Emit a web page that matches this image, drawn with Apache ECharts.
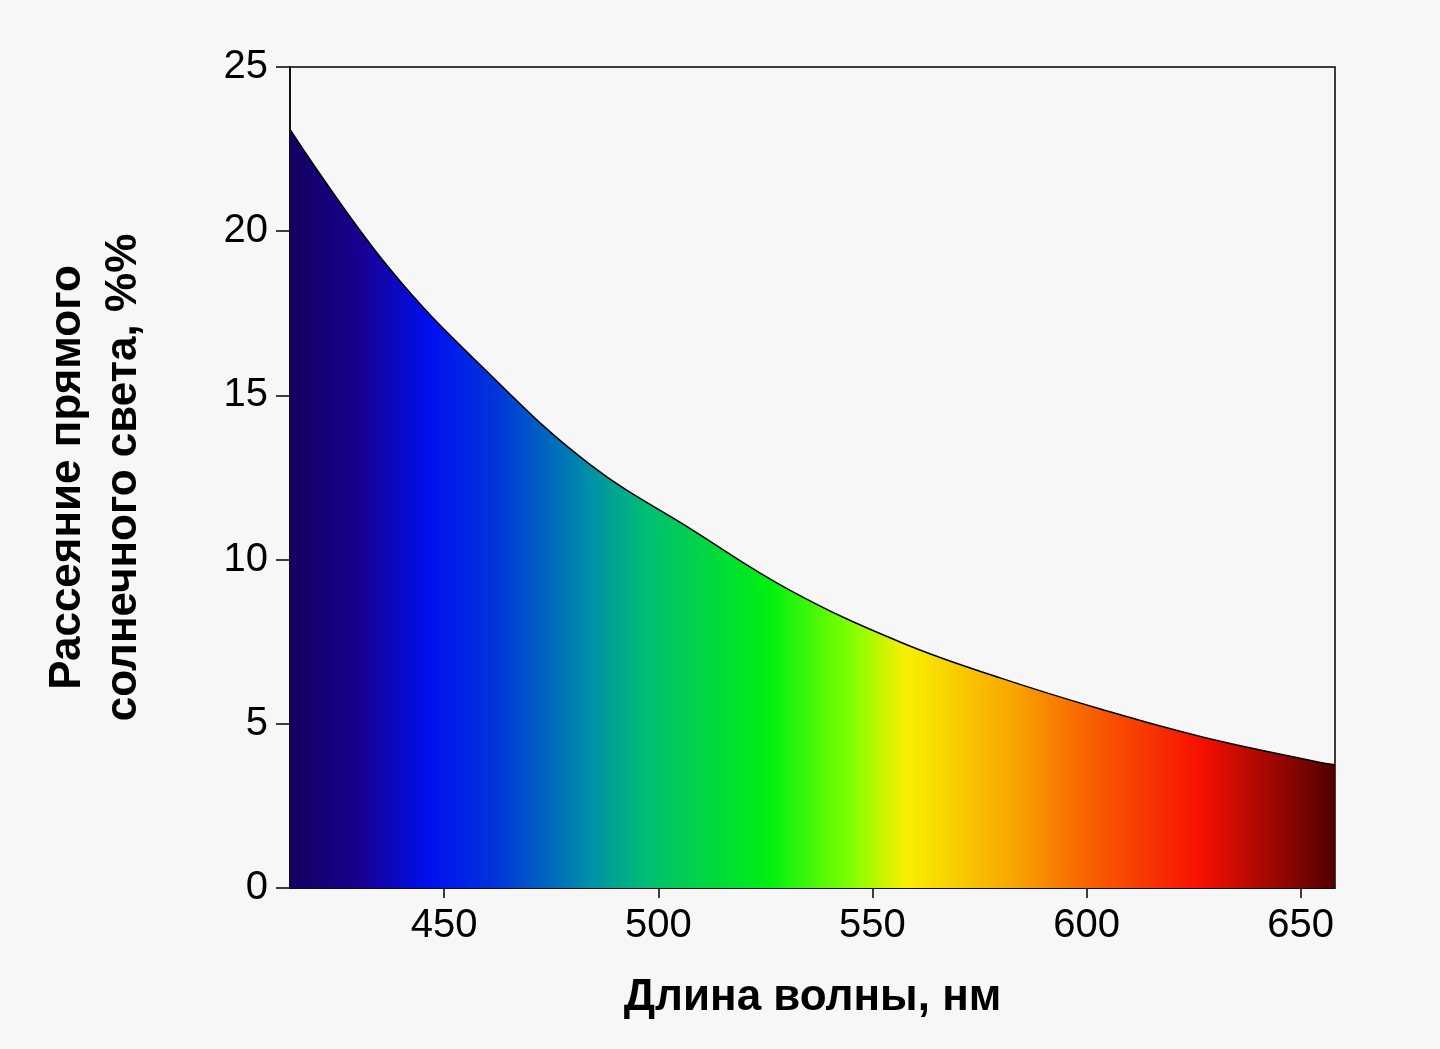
<!DOCTYPE html>
<html><head><meta charset="utf-8">
<script src="https://cdn.jsdelivr.net/npm/echarts@6/dist/echarts.min.js"></script>
<style>html,body{margin:0;background:#f7f7f7}#c{width:1440px;height:1049px}</style>
</head><body><div id="c"></div>
<script>
const wavelengths = [414, 437, 461, 484, 508, 531, 557, 580, 604, 627, 654, 658];
const scattering = [23.1, 18.9, 15.6, 12.9, 10.9, 9.05, 7.46, 6.39, 5.42, 4.6, 3.84, 3.75];
const xTicks = [450, 500, 550, 600, 650];
const F = 'Liberation Sans, Arial, sans-serif';
const chart = echarts.init(document.getElementById('c'));
const stops = [[290,'#140060'],[360,'#180090'],[430,'#0010f0'],[500,'#0038d8'],[590,'#0090a8'],[650,'#00c070'],[770,'#00f010'],[850,'#80ff00'],[905,'#f8f000'],[1010,'#f8a800'],[1100,'#f85800'],[1200,'#f81000'],[1335,'#500000']]
  .map(s => ({offset:(s[0]-290)/1045, color:s[1]}));
chart.setOption({
  backgroundColor:'#f7f7f7',
  animation:false,
  grid:{left:290,right:105,top:67,bottom:161,show:true,borderColor:'#000',borderWidth:1.5,backgroundColor:'transparent'},
  xAxis:{type:'value',min:414,max:658,name:'Длина волны, нм',nameLocation:'middle',nameGap:88,
    nameTextStyle:{fontFamily:F,fontSize:44,fontWeight:'bold',color:'#000'},
    axisLine:{lineStyle:{color:'#000',width:1.5}},splitLine:{show:false},
    axisTick:{customValues:xTicks,length:10,lineStyle:{color:'#000',width:1.5}},
    axisLabel:{customValues:xTicks,fontFamily:F,fontSize:40,color:'#000',margin:18}},
  yAxis:{type:'value',min:0,max:25,interval:5,name:'Рассеяние прямого\nсолнечного света, %%',nameLocation:'middle',nameGap:138,
    nameTextStyle:{fontFamily:F,fontSize:44,fontWeight:'bold',color:'#000',lineHeight:56},
    axisLine:{show:true,lineStyle:{color:'#000',width:1.5}},splitLine:{show:false},
    axisTick:{show:true,length:14,lineStyle:{color:'#000',width:1.5}},
    axisLabel:{fontFamily:F,fontSize:40,color:'#000',margin:22}},
  series:[{type:'line',smooth:0.4,symbol:'none',data:wavelengths.map((w,i)=>[w,scattering[i]]),
    lineStyle:{color:'#000',width:1.5},
    areaStyle:{opacity:1,color:new echarts.graphic.LinearGradient(0,0,1,0,stops)}}]
});
</script></body></html>
